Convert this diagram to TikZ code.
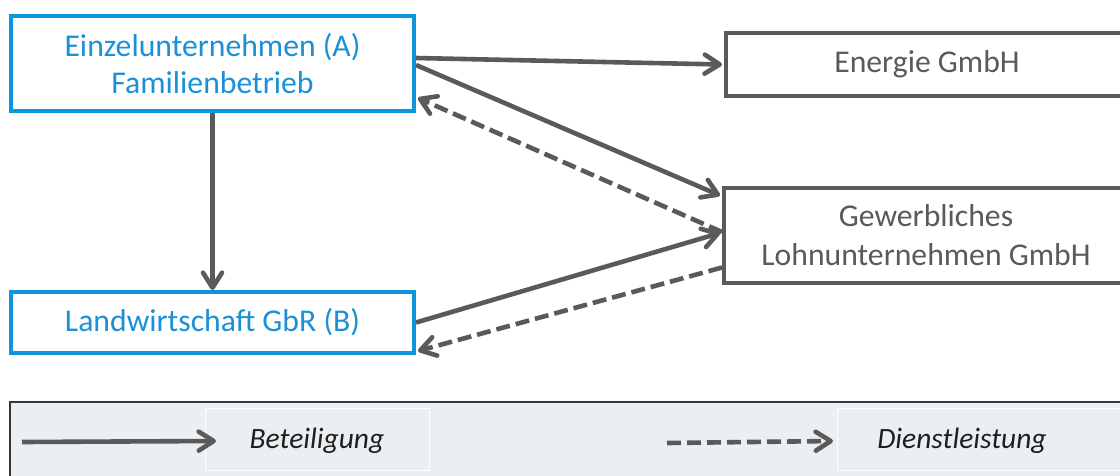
\documentclass[tikz,border=0pt]{standalone}
\usepackage{fontspec}
\setmainfont{Carlito}
\usetikzlibrary{arrows.meta}
\definecolor{boxblue}{HTML}{0D96DB}
\definecolor{txtblue}{HTML}{1B90D6}
\definecolor{dgray}{HTML}{5A5A5A}
\definecolor{leggray}{HTML}{ECEFF2}
\definecolor{legborder}{HTML}{333B3B}
\tikzset{
  bluebox/.style={draw=boxblue, line width=4pt, text=txtblue, align=center, inner sep=0pt,
    font=\fontsize{31.7}{37}\selectfont},
  graybox/.style={draw=dgray, line width=4pt, text=dgray, align=center, inner sep=0pt,
    font=\fontsize{31.7}{39}\selectfont},
  rel/.style={draw=dgray, line width=4.6pt, -{Straight Barb[length=15pt,width=19pt,round]}},
  svc/.style={rel, dash pattern=on 14pt off 6pt},
  legtext/.style={font=\fontsize{29.5}{34}\selectfont\itshape, text=black!88, inner sep=0pt},
  legcell/.style={draw=white, line width=0.8pt},
}
\begin{document}
\begin{tikzpicture}[x=1pt,y=-1pt]
\clip (0,0) rectangle (1120,475);
\fill[white] (0,0) rectangle (1120,475);
% main boxes
\node[bluebox, minimum width=403pt, minimum height=95pt] (A) at (212.5,63.5) {Einzelunternehmen (A)\\Familienbetrieb};
\node[bluebox, minimum width=403pt, minimum height=61pt] (B) at (212.5,322.5) {Landwirtschaft GbR (B)};
\node[graybox, minimum width=402pt, minimum height=63pt] (E) at (927,64.5) {Energie GmbH};
\node[graybox, minimum width=404pt, minimum height=95pt] (L) at (926,235.5) {Gewerbliches\\Lohnunternehmen GmbH};
% connectors
\draw[rel] ([yshift=5.5pt]A.east) -- ([xshift=-2pt]E.west);
\draw[rel] ([yshift=-1.5pt]A.east) -- ([xshift=-2pt,yshift=40pt]L.west);
\draw[svc] ([yshift=3.5pt]L.west) -- ([xshift=2pt,yshift=-34.5pt]A.east);
\draw[rel] (B.east) -- ([xshift=-2pt,yshift=2.5pt]L.west);
\draw[svc] ([yshift=-32pt]L.west) -- ([xshift=2pt,yshift=-28.5pt]B.east);
\draw[rel] (A.south) -- (B.north);
% legend
\draw[fill=leggray, draw=legborder, line width=2pt] (10,402) rectangle (1140,490);
\draw[legcell] (205,408) rectangle (429,470);
\draw[legcell] (837,408) rectangle (1140,470);
\node[legtext] (lb) at (317,441) {Beteiligung};
\node[legtext] (ld) at (962,441) {Dienstleistung};
\coordinate (s1) at (22,442);
\coordinate (s2) at (216,441);
\coordinate (d1) at (667,443);
\coordinate (d2) at (833,441);
\draw[rel] (s1) -- (s2);
\draw[svc] (d1) -- (d2);
\end{tikzpicture}
\end{document}
